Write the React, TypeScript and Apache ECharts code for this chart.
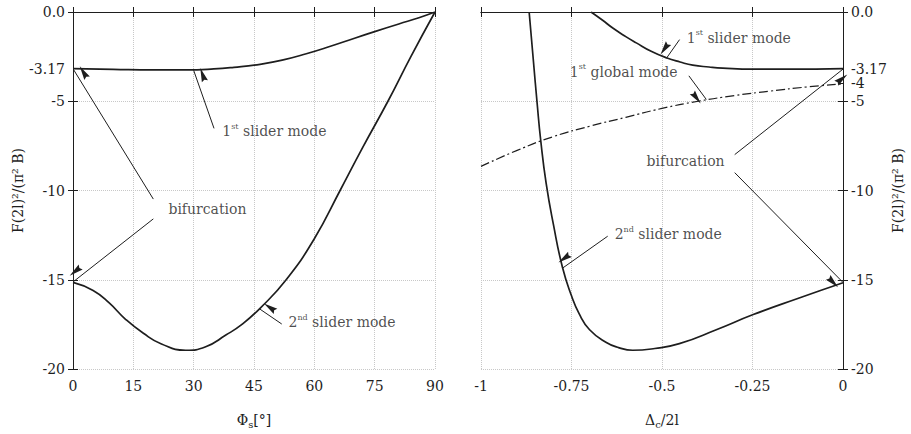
import React, { useEffect, useRef } from 'react';
import * as echarts from 'echarts';

// ---------- data ----------
// Left panel: Phi_s [deg]
const leftSlider1X = [0, 10, 20, 28, 35, 40, 46.5, 52, 58, 64, 70, 75, 81, 86, 90];
const leftSlider1Y = [-3.17, -3.21, -3.24, -3.24, -3.19, -3.1, -2.93, -2.7, -2.34, -1.92, -1.47, -1.1, -0.67, -0.32, 0];
const leftSlider2X = [0, 5, 9, 13, 17.5, 22, 28, 33, 38, 42, 46.5, 53, 60, 66.4, 72, 78.3, 84, 90];
const leftSlider2Y = [-15.15, -15.6, -16.3, -17.2, -18.0, -18.6, -18.95, -18.75, -18.1, -17.5, -16.6, -15.0, -12.7, -10, -7.6, -5, -2.5, 0];

// Right panel: Delta_c / 2l
const rightSlider1X = [-0.696, -0.665, -0.636, -0.6, -0.571, -0.53, -0.488, -0.45, -0.415, -0.37, -0.332, -0.25, -0.15, 0];
const rightSlider1Y = [0, -0.45, -0.9, -1.38, -1.73, -2.2, -2.56, -2.8, -2.98, -3.08, -3.14, -3.2, -3.2, -3.17];
const rightGlobalX = [-1, -0.9, -0.8, -0.7, -0.6, -0.5, -0.4, -0.3, -0.2, -0.1, 0];
const rightGlobalY = [-8.65, -7.75, -6.98, -6.4, -5.9, -5.4, -5.0, -4.68, -4.43, -4.2, -4.03];
const rightSlider2X = [-0.867, -0.855, -0.845, -0.835, -0.82, -0.8, -0.775, -0.75, -0.729, -0.7, -0.655, -0.62, -0.581, -0.52, -0.452, -0.35, -0.248, -0.125, 0];
const rightSlider2Y = [0, -2.8, -5.1, -7.2, -9.6, -11.9, -14.3, -15.9, -16.9, -17.8, -18.5, -18.8, -18.95, -18.85, -18.58, -17.8, -16.95, -16.05, -15.17];

// tick labels
const leftYTicks = [0, -3.17, -5, -10, -15, -20];
const rightYTicks = [0, -3.17, -4, -5, -10, -15, -20];

// annotations (data coordinates)
const leftNotes = ['{a|1}{s|st}{a| slider mode}', '{a|bifurcation}', '{a|2}{s|nd}{a| slider mode}'];
const leftNotePos = [[37.0, -6.67], [23.6, -11.03], [53.45, -17.39]];
const leftArrows = [
  [[35.06, -6.52], [30, -3.27]],
  [[19.97, -10.48], [0.2, -3.25]],
  [[19.97, -11.59], [0.25, -15.08]],
  [[51.9, -17.48], [46.5, -16.65]],
];
const rightNotes = ['{a|1}{s|st}{a| slider mode}', '{a|1}{s|st}{a| global mode}', '{a|bifurcation}', '{a|2}{s|nd}{a| slider mode}'];
const rightNotePos = [[-0.433, -1.45], [-0.756, -3.35], [-0.544, -8.36], [-0.632, -12.45]];
const rightArrows = [
  [[-0.4515, -1.547], [-0.4884, -2.61]],
  [[-0.4258, -3.575], [-0.3776, -4.9]],
  [[-0.2992, -7.99], [0, -3.2]],
  [[-0.2992, -9.0], [0, -15.15]],
  [[-0.65, -12.56], [-0.7748, -14.35]],
];

// ---------- styling ----------
const FONT = 'DejaVu Serif';
const INK = '#1e1e1e';
const GRID = '#c8c8c8';

const rich: any = {
  a: { fontFamily: FONT, fontSize: 14, color: INK, lineHeight: 18 },
  s: { fontFamily: FONT, fontSize: 8, color: INK, verticalAlign: 'top', lineHeight: 10 },
  b: { fontFamily: FONT, fontSize: 10, color: INK, verticalAlign: 'bottom', lineHeight: 10 },
};

const zip = (xs: number[], ys: number[]) => xs.map((x, i) => [x, ys[i]]);
const fmtY = (v: number) => (v === 0 ? '0.0' : String(v));
const ARROW = 'path://M0,0 M10,10 M5,0 L7.3,10 L5,8.8 L2.7,10 Z';

const baseAxisLine = { show: true, lineStyle: { color: INK, width: 1 } };
const labelStyle = { fontFamily: FONT, fontSize: 14, color: INK };

function curve(name: string, xi: number, yi: number, data: number[][], extra: any = {}) {
  return {
    name,
    type: 'line',
    xAxisIndex: xi,
    yAxisIndex: yi,
    data,
    smooth: 0.5,
    showSymbol: false,
    symbol: 'none',
    silent: true,
    lineStyle: { color: INK, width: 1.7, ...(extra.lineStyle || {}) },
    z: 3,
  };
}

function notes(xi: number, yi: number, pos: number[][], texts: string[], arrows: number[][][]) {
  return {
    type: 'scatter',
    xAxisIndex: xi,
    yAxisIndex: yi,
    data: pos,
    symbolSize: 1,
    itemStyle: { color: 'rgba(0,0,0,0)' },
    silent: true,
    label: {
      show: true,
      position: 'right',
      distance: 0,
      formatter: (p: any) => texts[p.dataIndex],
      rich,
    },
    markLine: {
      silent: true,
      symbol: ['none', ARROW],
      symbolSize: 14,
      symbolOffset: [0, 7],
      label: { show: false },
      lineStyle: { color: INK, width: 1, type: 'solid' },
      itemStyle: { color: INK },
      emphasis: { disabled: true },
      data: arrows.map((a) => [{ coord: a[0] }, { coord: a[1] }]),
    },
    z: 5,
  };
}

function buildOption(): any {
  const tick = { show: true, inside: true, length: 5, lineStyle: { color: INK } };
  const split = { show: true, lineStyle: { color: GRID, type: 'dotted', width: 1 } };
  const xLeftBottom = {
    type: 'value', gridIndex: 0, min: 0, max: 90, interval: 15, position: 'bottom',
    axisLine: baseAxisLine, axisTick: tick,
    axisLabel: { ...labelStyle, margin: 10 },
    splitLine: split,
    name: '{a|Φ}{b|s}{a|[°]}', nameLocation: 'middle', nameGap: 42, nameTextStyle: { rich },
  };
  const xLeftTop = {
    type: 'value', gridIndex: 0, min: 0, max: 90, interval: 15, position: 'top',
    axisLine: baseAxisLine, axisTick: tick, axisLabel: { show: false }, splitLine: { show: false },
  };
  const xRightBottom = {
    type: 'value', gridIndex: 1, min: -1, max: 0, interval: 0.25, position: 'bottom',
    axisLine: baseAxisLine, axisTick: tick,
    axisLabel: { ...labelStyle, margin: 10 },
    splitLine: split,
    name: '{a|Δ}{b|c}{a|/2l}', nameLocation: 'middle', nameGap: 42, nameTextStyle: { rich },
  };
  const xRightTop = {
    type: 'value', gridIndex: 1, min: -1, max: 0, interval: 0.25, position: 'top',
    axisLine: baseAxisLine, axisTick: tick, axisLabel: { show: false }, splitLine: { show: false },
  };
  const yName = 'F(2l)²/(π² B)';
  const yLeftLabels = {
    type: 'value', gridIndex: 0, min: -20, max: 0, position: 'left',
    axisLine: baseAxisLine,
    axisTick: { ...tick, customValues: leftYTicks },
    axisLabel: { ...labelStyle, margin: 8, customValues: leftYTicks, formatter: fmtY },
    splitLine: { show: false },
    name: yName, nameLocation: 'middle', nameRotate: 90, nameGap: 48,
    nameTextStyle: { fontFamily: FONT, fontSize: 14, color: INK },
  };
  const yLeftGrid = {
    type: 'value', gridIndex: 0, min: -20, max: 0, interval: 5, position: 'right',
    axisLine: baseAxisLine, axisTick: tick, axisLabel: { show: false }, splitLine: split,
  };
  const yRightGrid = {
    type: 'value', gridIndex: 1, min: -20, max: 0, interval: 5, position: 'left',
    axisLine: baseAxisLine, axisTick: tick, axisLabel: { show: false }, splitLine: split,
  };
  const yRightLabels = {
    type: 'value', gridIndex: 1, min: -20, max: 0, position: 'right',
    axisLine: baseAxisLine,
    axisTick: { ...tick, customValues: rightYTicks },
    axisLabel: { ...labelStyle, margin: 8, customValues: rightYTicks, formatter: fmtY },
    splitLine: { show: false },
    name: yName, nameLocation: 'middle', nameRotate: 90, nameGap: 42,
    nameTextStyle: { fontFamily: FONT, fontSize: 14, color: INK },
  };

  return {
    animation: false,
    backgroundColor: '#ffffff',
    textStyle: { fontFamily: FONT },
    grid: [
      { left: 73, top: 12, width: 362, height: 362 },
      { left: 481, top: 12, width: 362, height: 362 },
    ],
    xAxis: [xLeftBottom, xLeftTop, xRightBottom, xRightTop],
    yAxis: [yLeftLabels, yLeftGrid, yRightGrid, yRightLabels],
    series: [
      curve('1st slider mode (Φs)', 0, 0, zip(leftSlider1X, leftSlider1Y)),
      curve('2nd slider mode (Φs)', 0, 0, zip(leftSlider2X, leftSlider2Y)),
      curve('1st slider mode (Δc)', 2, 3, zip(rightSlider1X, rightSlider1Y)),
      curve('2nd slider mode (Δc)', 2, 3, zip(rightSlider2X, rightSlider2Y)),
      curve('1st global mode (Δc)', 2, 3, zip(rightGlobalX, rightGlobalY), {
        lineStyle: { width: 1.2, type: [9, 3, 2, 3] },
      }),
      notes(0, 0, leftNotePos, leftNotes, leftArrows),
      notes(2, 3, rightNotePos, rightNotes, rightArrows),
    ],
  };
}

export default function App() {
  const ref = useRef<HTMLDivElement>(null);
  useEffect(() => {
    document.body.style.margin = '0';
    const chart = echarts.init(ref.current!, null, { renderer: 'svg' });
    chart.setOption(buildOption());
    return () => chart.dispose();
  }, []);
  return <div ref={ref} style={{ width: 911, height: 434 }} />;
}
